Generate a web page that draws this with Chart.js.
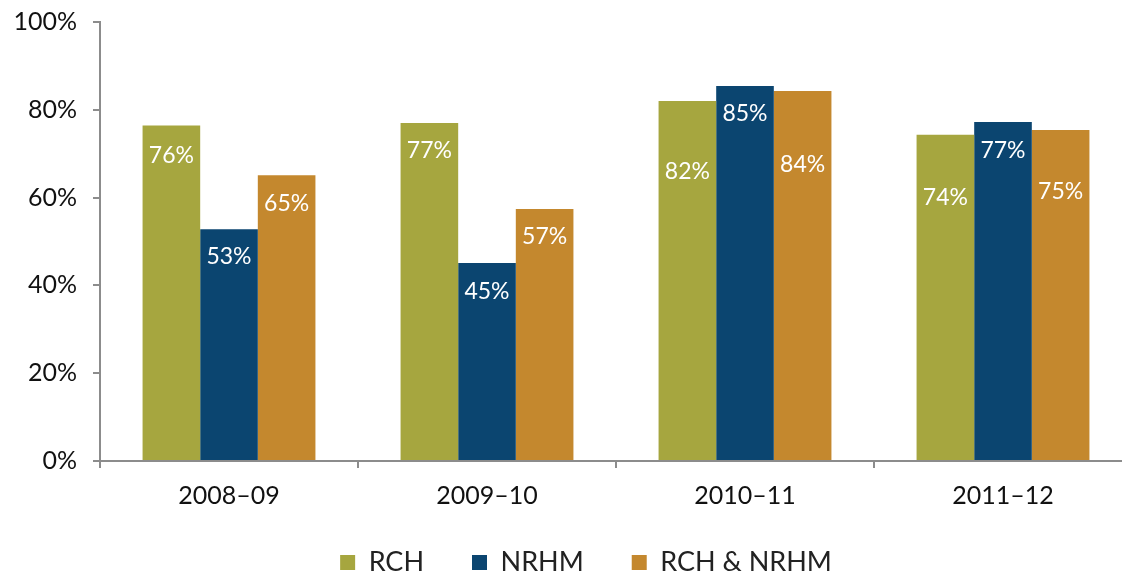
<!DOCTYPE html>
<html>
<head>
<meta charset="utf-8">
<script src="https://cdn.jsdelivr.net/npm/chart.js@4.4.0/dist/chart.umd.min.js"></script>
<style>
  html, body { margin: 0; padding: 0; background: #fff; overflow: hidden; }
  #wrap { width: 1132px; height: 571px; position: relative; }
</style>
</head>
<body>
<div id="wrap"><canvas id="chart"></canvas></div>
<script>
const categories = ['2008\u201309', '2009\u201310', '2010\u201311', '2011\u201312'];
const rchValues = [76.4, 77.0, 82.0, 74.3];
const nrhmValues = [52.8, 45.1, 85.4, 77.2];
const bothValues = [65.1, 57.4, 84.3, 75.4];
const yTicks = [0, 20, 40, 60, 80, 100];

// how far below the bar top each label sits (px)
const labelOffsets = [
    [30, 28, 71, 63],
    [27, 29, 27, 28],
    [28, 28, 74, 62]
];

const FONT = 'Lato, "Open Sans", sans-serif';

const barLabels = {
    id: 'barLabels',
    afterDatasetsDraw(chart) {
        const ctx = chart.ctx;
        ctx.save();
        ctx.fillStyle = '#ffffff';
        ctx.font = '23px ' + FONT;
        ctx.textAlign = 'center';
        ctx.textBaseline = 'middle';
        chart.data.datasets.forEach((ds, i) => {
            chart.getDatasetMeta(i).data.forEach((bar, j) => {
                ctx.fillText(Math.round(ds.data[j]) + '%', bar.x, bar.y + labelOffsets[i][j]);
            });
        });
        ctx.restore();
    }
};

// wide horizontal gaps in the legend, but less vertical room than labels.padding would take
const legendSpacing = {
    id: 'legendSpacing',
    beforeLayout(chart) {
        const lg = chart.legend;
        if (lg && !lg._patched) {
            const fit = lg.fit.bind(lg);
            lg.fit = function() { fit(); this.height -= 38; };
            lg._patched = true;
        }
    },
    afterLayout(chart) {
        const lg = chart.legend;
        lg.top -= 23;
        lg.height += 23;
        lg.left += 20;
        lg.right += 20;
    }
};

const ctx = document.getElementById('chart').getContext('2d');
const chart = new Chart(ctx, {
    type: 'bar',
    data: {
        labels: categories,
        datasets: [
            { label: 'RCH', data: rchValues, backgroundColor: '#A6A63F' },
            { label: 'NRHM', data: nrhmValues, backgroundColor: '#0B4570' },
            { label: 'RCH & NRHM', data: bothValues, backgroundColor: '#C4882E' }
        ]
    },
    options: {
        responsive: true,
        maintainAspectRatio: false,
        animation: false,
        layout: { padding: { top: 22, right: 0, bottom: 0, left: 0 } },
        datasets: { bar: { categoryPercentage: 0.67, barPercentage: 1.0 } },
        plugins: {
            legend: {
                position: 'bottom',
                labels: {
                    boxWidth: 15,
                    boxHeight: 15,
                    padding: 48,
                    color: '#222',
                    font: { family: FONT, size: 27 }
                }
            },
            tooltip: { enabled: false }
        },
        scales: {
            x: {
                grid: { display: true, drawOnChartArea: false, offset: true, tickLength: 7, color: '#8c8c8c', lineWidth: 2 },
                border: { color: '#8c8c8c', width: 2 },
                ticks: { color: '#111', font: { family: FONT, size: 25 }, padding: 13 }
            },
            y: {
                min: 0,
                max: 100,
                afterFit(scale) { scale.width = 100; scale.paddingTop = 0; },
                afterBuildTicks(scale) { scale.ticks = yTicks.map(v => ({ value: v })); },
                grid: { display: true, drawOnChartArea: false, tickLength: 7, color: '#8c8c8c', lineWidth: 2 },
                border: { color: '#8c8c8c', width: 2 },
                ticks: {
                    color: '#111',
                    font: { family: FONT, size: 25 },
                    padding: 16,
                    callback: v => v + '%'
                }
            }
        }
    },
    plugins: [barLabels, legendSpacing]
});
</script>
</body>
</html>
